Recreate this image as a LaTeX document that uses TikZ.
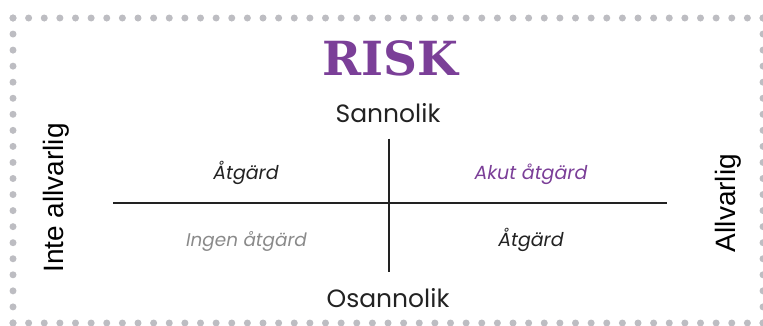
\documentclass[tikz,border=0pt]{standalone}
\usepackage{fontspec}
\setmainfont{Poppins}
\newfontfamily\titlefont{DejaVu Serif}
\newfontfamily\arialfont{Liberation Sans}
\definecolor{riskpurple}{HTML}{7B3F98}
\definecolor{dotgray}{HTML}{BDBDC2}
\definecolor{inkgray}{HTML}{222222}
\definecolor{softgray}{HTML}{8A8A8A}
\tikzset{
  dotmark/.style={fill=dotgray, draw=none},
  axisline/.style={draw=inkgray, line width=2pt},
  axislabel/.style={font=\fontsize{25}{28}\selectfont, text=inkgray, inner sep=0pt},
  sidelabel/.style={font=\arialfont\fontsize{28}{30}\selectfont, text=black, inner sep=0pt, rotate=90},
  quad/.style={font=\itshape\fontsize{19}{22}\selectfont, inner sep=0pt},
}
\begin{document}
\begin{tikzpicture}[x=1pt,y=-1pt]
\useasboundingbox (0,0) rectangle (763,325);
\clip (0,0) rectangle (763,325);
% dotted frame
\foreach \i in {0,...,48} {
  \fill[dotmark] (13+\i*15.625,18) circle (3.5);
  \fill[dotmark] (13+\i*15.625,323) circle (3.5);
}
\foreach \j in {0,...,19} {
  \fill[dotmark] (13,18+\j*16.05) circle (3.5);
  \fill[dotmark] (763,18+\j*16.05) circle (3.5);
}
% title
\node[font=\titlefont\bfseries\fontsize{47}{50}\selectfont, text=riskpurple, anchor=base, inner sep=0pt] (title) at (390,75) {RISK};
% axes
\coordinate (vtop) at (389,138.5);
\coordinate (vbot) at (389,271.5);
\coordinate (hleft) at (113,203.3);
\coordinate (hright) at (667,203.3);
\draw[axisline] (vtop) -- (vbot);
\draw[axisline] (hleft) -- (hright);
% axis labels
\node[axislabel, anchor=base] (sann) at (388,122) {Sannolik};
\node[axislabel, anchor=base] (osann) at (388,307) {Osannolik};
\node[sidelabel, anchor=base] (inte) at (63,198) {Inte allvarlig};
\node[sidelabel, anchor=base] (allv) at (735,203) {Allvarlig};
% quadrants
\node[quad, text=inkgray, anchor=base] (q1) at (246,179) {Åtgärd};
\node[quad, text=riskpurple, anchor=base] (q2) at (531,179) {Akut åtgärd};
\node[quad, text=softgray, anchor=base, font=\itshape\fontsize{18.4}{22}\selectfont] (q3) at (246.5,246) {Ingen åtgärd};
\node[quad, text=inkgray, anchor=base] (q4) at (531,246) {Åtgärd};
\end{tikzpicture}
\end{document}
